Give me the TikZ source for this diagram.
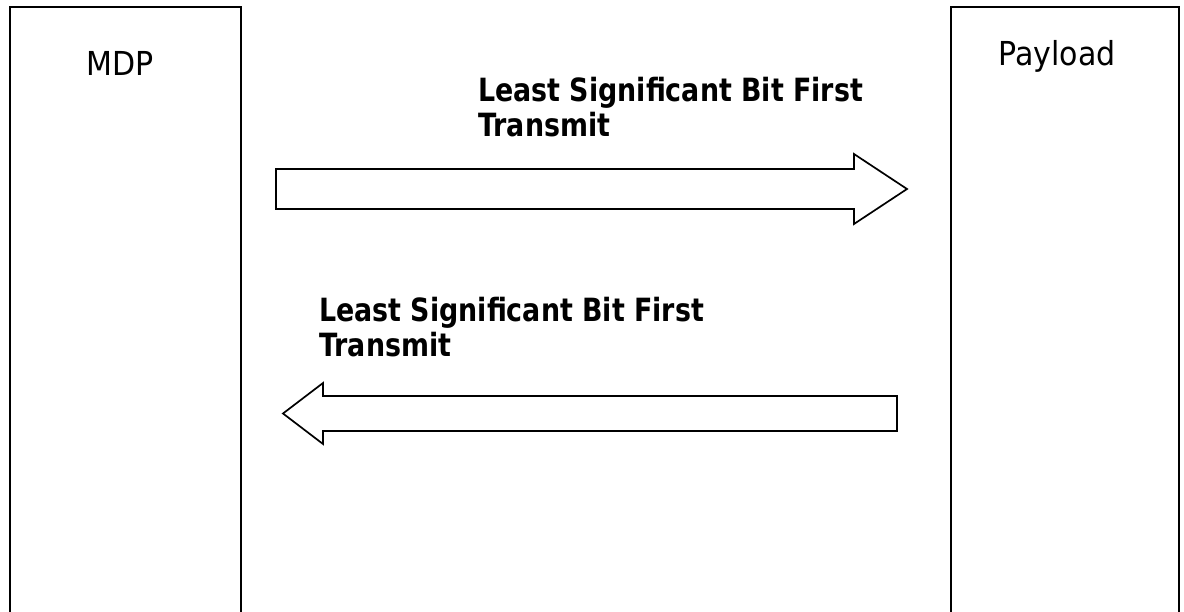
\documentclass[tikz,border=0pt]{standalone}
\usepackage{fontspec}
\setmainfont{DejaVu Sans}
\newfontfamily\boxfont[FakeStretch=0.91]{DejaVu Sans}
\newfontfamily\lblfont[FakeStretch=0.84]{DejaVu Sans}
\begin{document}
\begin{tikzpicture}[x=1pt,y=-1pt,
  blockbox/.style={draw=black,line width=2pt,fill=white},
  blockarrow/.style={draw=black,line width=1.7pt,line join=miter,fill=white},
  boxlabel/.style={inner sep=0pt,anchor=base,font=\boxfont\fontsize{33}{40}\selectfont},
  arrowlabel/.style={inner sep=0pt,anchor=north west,align=left,font=\lblfont\fontsize{32}{35}\selectfont\bfseries}]
\clip (0,0) rectangle (1184,612);
\fill[white] (0,0) rectangle (1184,612);
% boxes
\node[blockbox,minimum width=231pt,minimum height=660pt,anchor=north west] (mdp) at (9,6) {};
\node[blockbox,minimum width=228pt,minimum height=660pt,anchor=north west] (pay) at (950,6) {};
\node[boxlabel] (mdpl) at (120,76) {MDP};
\node[boxlabel] (payl) at (1057,66) {Payload};
% arrow 1 (MDP -> Payload)
\coordinate (a1s) at (276,189);
\coordinate (a1e) at (907,189);
\draw[blockarrow] ([yshift=-20pt]a1s) -- ([xshift=-53pt,yshift=-20pt]a1e) -- ([xshift=-53pt,yshift=-35pt]a1e)
  -- (a1e) -- ([xshift=-53pt,yshift=35pt]a1e) -- ([xshift=-53pt,yshift=20pt]a1e) -- ([yshift=20pt]a1s) -- cycle;
\node[arrowlabel] (l1) at (478,77) {Least Significant Bit First\\Transmit};
% arrow 2 (Payload -> MDP)
\coordinate (a2s) at (897,413.5);
\coordinate (a2e) at (283,413.5);
\draw[blockarrow] ([yshift=-17.5pt]a2s) -- ([xshift=40pt,yshift=-17.5pt]a2e) -- ([xshift=40pt,yshift=-30.5pt]a2e)
  -- (a2e) -- ([xshift=40pt,yshift=30.5pt]a2e) -- ([xshift=40pt,yshift=17.5pt]a2e) -- ([yshift=17.5pt]a2s) -- cycle;
\node[arrowlabel] (l2) at (319,297) {Least Significant Bit First\\Transmit};
\end{tikzpicture}
\end{document}
